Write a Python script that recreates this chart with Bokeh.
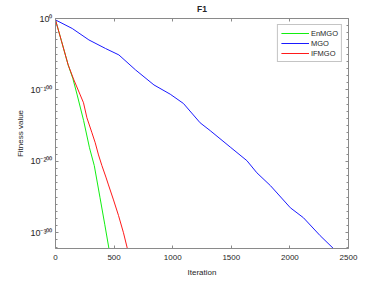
from bokeh.plotting import figure
from bokeh.models import (Range1d, LinearAxis, FixedTicker, Legend, LegendItem,
                          CustomLabelingPolicy)
from bokeh.embed import file_html
from bokeh.resources import INLINE

# Data (log10 of fitness value)
enmgo_iter = [0, 50, 108, 148, 185, 240, 290, 331, 380, 420, 458]
enmgo_log = [-2, -31, -65, -84, -107, -143, -181, -206, -251, -288, -324]

mgo_iter = [0, 143, 285, 427, 541, 683, 840, 979, 1092, 1234, 1320, 1491, 1633,
            1718, 1834, 2004, 2116, 2258, 2390]
mgo_log = [-2, -14, -30, -42, -51, -72, -93, -106, -119, -146, -157, -180, -199,
           -216, -234, -265, -279, -304, -325]

ifmgo_iter = [0, 50, 108, 157, 211, 239, 268, 311, 339, 367, 396, 430, 452, 495,
              538, 580, 616]
ifmgo_log = [-2, -31, -65, -86, -107, -118, -139, -160, -174, -191, -206, -222,
             -233, -254, -276, -300, -324]

series_names = ["EnMGO", "MGO", "IFMGO"]
series_colors = ["#11ee11", "#1a1aff", "#ff1a1a"]

x_ticks = [0, 500, 1000, 1500, 2000, 2500]
y_ticks = [-300, -200, -100, 0]
y_tick_labels = ["10\u207b\u00b3\u2070\u2070", "10\u207b\u00b2\u2070\u2070",
                 "10\u207b\u00b9\u2070\u2070", "10\u2070"]
y_minor = list(range(-320, 1, 10))

FONT = "Liberation Sans"
AX = "#8a8a8a"
TXT = "#262626"

p = figure(width=363, height=281, output_backend="svg", toolbar_location=None,
           x_range=Range1d(0, 2500), y_range=Range1d(-322, 0),
           min_border_left=55, min_border_right=15, min_border_top=18,
           min_border_bottom=33, title="F1")
p.xgrid.visible = False
p.ygrid.visible = False
p.outline_line_color = None
p.background_fill_color = "white"
p.title.align = "center"
p.title.text_font = FONT
p.title.text_font_size = "8.5px"
p.title.text_font_style = "bold"
p.title.text_color = TXT
p.title.standoff = 1

data = [(enmgo_iter, enmgo_log), (mgo_iter, mgo_log), (ifmgo_iter, ifmgo_log)]
items = []
for (xs, ys), name, col in zip(data, series_names, series_colors):
    r = p.line(xs, ys, line_color=col, line_width=1)
    # second, legend-only sample of the same colour drawn over the first
    leg = p.line([], [], line_color=col, line_width=1.6)
    items.append(LegendItem(label=name, renderers=[r, leg]))


def style(ax, labels=True):
    ax.axis_line_color = AX
    ax.major_tick_line_color = AX
    ax.minor_tick_line_color = AX
    ax.major_tick_in = 3
    ax.major_tick_out = 0
    ax.minor_tick_in = 2
    ax.minor_tick_out = 0
    ax.major_label_text_font = FONT
    ax.major_label_text_color = TXT
    ax.major_label_text_font_size = "8px"
    ax.axis_label_text_font = FONT
    ax.axis_label_text_color = TXT
    ax.axis_label_text_font_size = "8px"
    ax.axis_label_text_font_style = "normal"
    if not labels:
        ax.major_label_policy = CustomLabelingPolicy(
            code="for (const i of indices) indices.unset(i); return indices")
        ax.major_label_standoff = 0
        ax.major_label_text_font_size = "1px"
        ax.level = "overlay"


xb = p.xaxis[0]
xb.ticker = FixedTicker(ticks=x_ticks, minor_ticks=[])
style(xb)
xb.major_label_standoff = 6
xb.axis_label = "Iteration"
xb.axis_label_standoff = 5

yl = p.yaxis[0]
yl.ticker = FixedTicker(ticks=y_ticks, minor_ticks=y_minor)
style(yl)
yl.major_label_text_font_size = "9px"
yl.major_label_overrides = {t: s for t, s in zip(y_ticks, y_tick_labels)}
yl.major_label_standoff = 3
yl.axis_label = "Fitness value"
yl.axis_label_standoff = 2

legend = Legend(items=items, location="top_right")
legend.margin = 6
legend.padding = 3
legend.spacing = 0
legend.glyph_width = 28
legend.glyph_height = 10
legend.label_height = 10
legend.label_standoff = 2
legend.label_text_font = FONT
legend.label_text_font_size = "7.5px"
legend.label_text_color = TXT
legend.border_line_color = AX
legend.border_line_width = 1
legend.background_fill_color = "white"
legend.background_fill_alpha = 1
p.add_layout(legend)

xt = LinearAxis(ticker=FixedTicker(ticks=x_ticks, minor_ticks=[]))
style(xt, labels=False)
p.add_layout(xt, "above")

yr = LinearAxis(ticker=FixedTicker(ticks=y_ticks, minor_ticks=y_minor))
style(yr, labels=False)
p.add_layout(yr, "right")

open("out.html", "w").write(file_html(p, INLINE))
